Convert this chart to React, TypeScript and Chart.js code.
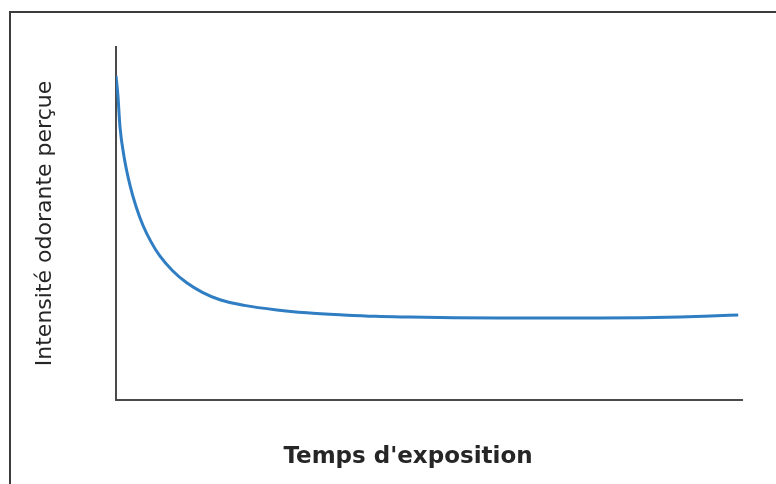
import React, { useEffect, useRef } from "react";
import { Chart, registerables } from "chart.js";

Chart.register(...registerables);

const xTitle = "Temps d'exposition";
const yTitle = "Intensité odorante perçue";

// exposure time (relative units) and perceived intensity (relative units)
const timeValues = [0, 0.3, 0.64, 1.3, 2.24, 3.2, 4.3, 5.6, 7.0, 9.0, 11.3, 13.8, 16.6, 20.5, 25.7, 30.5, 36.3, 41.5, 47.0, 54.0, 61.3, 69.0, 77.3, 84.0, 90.1, 95.0, 99.4];
const intensityValues = [91.8, 86.4, 77.3, 68.8, 60.8, 54.8, 49.5, 44.8, 40.8, 36.7, 33.2, 30.5, 28.4, 26.8, 25.5, 24.7, 24.1, 23.7, 23.5, 23.3, 23.2, 23.2, 23.2, 23.3, 23.5, 23.8, 24.1];

const framePlugin = {
  id: "frame",
  beforeDraw(chart: any) {
    const ctx = chart.ctx;
    ctx.save();
    ctx.fillStyle = "#ffffff";
    ctx.fillRect(0, 0, chart.width, chart.height);
    ctx.strokeStyle = "#3c3c3c";
    ctx.lineWidth = 2;
    ctx.beginPath();
    ctx.moveTo(10, chart.height);
    ctx.lineTo(10, 12);
    ctx.lineTo(chart.width, 12);
    ctx.stroke();
    ctx.restore();
  },
};

// x-axis title, drawn slightly left of the plot centre as in the reference
const xTitlePlugin = {
  id: "xTitle",
  afterDraw(chart: any) {
    const ctx = chart.ctx;
    const area = chart.chartArea;
    ctx.save();
    ctx.fillStyle = "#262626";
    ctx.font = "bold 23px 'DejaVu Sans'";
    ctx.textAlign = "center";
    ctx.textBaseline = "alphabetic";
    ctx.fillText(xTitle, (area.left + area.right) / 2 - 21, area.bottom + 63);
    ctx.restore();
  },
};

export default function App() {
  const ref = useRef<HTMLCanvasElement | null>(null);
  useEffect(() => {
    if (!ref.current) return;
    const chart = new Chart(ref.current, {
      type: "line",
      data: {
        datasets: [
          {
            data: timeValues.map((t, i) => ({ x: t, y: intensityValues[i] })),
            borderColor: "#2f7dc2",
            borderWidth: 3,
            pointRadius: 0,
            cubicInterpolationMode: "monotone",
            fill: false,
          },
        ],
      },
      options: {
        animation: false,
        responsive: false,
        layout: { padding: { top: 47, right: 34, left: 0, bottom: 0 } },
        plugins: { legend: { display: false }, tooltip: { enabled: false } },
        scales: {
          x: {
            type: "linear",
            min: 0,
            max: 100,
            grid: { display: false },
            ticks: { display: false },
            border: { display: true, color: "#4a4a4a", width: 2 },
            title: { display: false, text: xTitle },
            afterFit(scale: any) {
              scale.height = 84;
            },
          },
          y: {
            type: "linear",
            min: 0,
            max: 100,
            grid: { display: false },
            ticks: { display: false },
            border: { display: true, color: "#4a4a4a", width: 2 },
            title: {
              display: true,
              text: yTitle,
              color: "#262626",
              font: { family: "'DejaVu Sans'", size: 22, weight: "normal", lineHeight: 1.2 },
              padding: { top: 32, bottom: 0 },
            },
            afterFit(scale: any) {
              scale.width = 116;
            },
          },
        },
      },
      plugins: [framePlugin, xTitlePlugin],
    } as any);
    return () => chart.destroy();
  }, []);
  return (
    <div style={{ position: "fixed", left: 0, top: 0, width: 776, height: 484, background: "#fff" }}>
      <canvas ref={ref} width={776} height={484} />
    </div>
  );
}
